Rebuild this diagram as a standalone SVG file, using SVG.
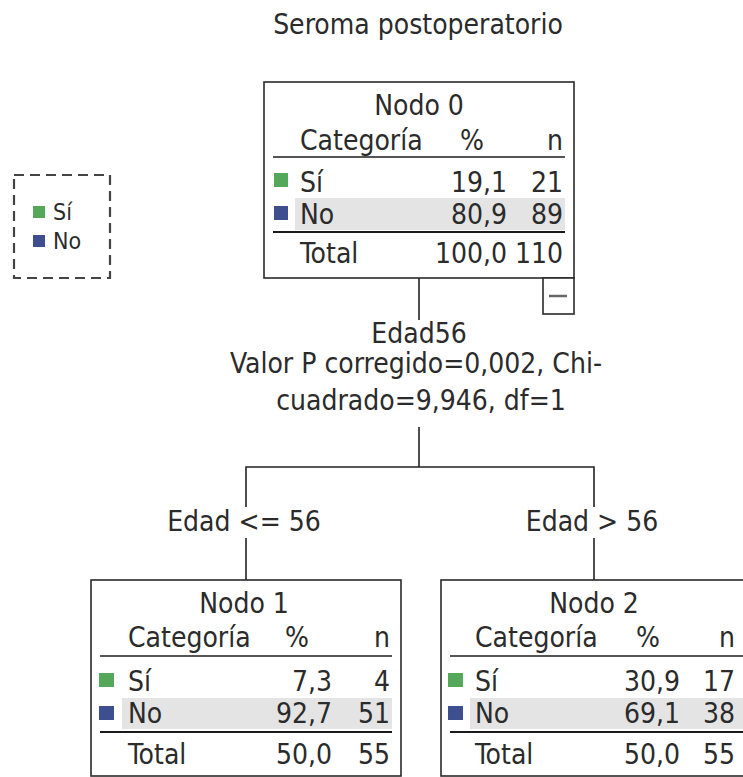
<svg xmlns="http://www.w3.org/2000/svg" width="743" height="777" viewBox="0 0 743 777">
<style>
text{font-family:"DejaVu Sans Condensed","DejaVu Sans",sans-serif;font-stretch:condensed;fill:#2b2b2b;font-size:28px}
.m{text-anchor:middle}
.e{text-anchor:end}
.box{fill:#fff;stroke:#2a2a2a;stroke-width:1.6}
.hl{stroke:#555;stroke-width:2}
.tl{stroke:#1a1a1a;stroke-width:2.2}
.band{fill:#e4e4e4}
.g{fill:#55a85a}
.b{fill:#3d4f8f}
.c{fill:none;stroke:#222;stroke-width:1.6}
.lg{font-size:23px}
</style>
<rect width="743" height="777" fill="#fff"/>
<text class="m" x="418" y="34">Seroma postoperatorio</text>

<g id="legend">
<rect x="14" y="175" width="96" height="103" fill="none" stroke="#444" stroke-width="2.2" stroke-dasharray="10,6"/>
<rect class="g" x="33" y="206" width="12" height="12"/>
<text class="lg" x="53" y="220">Sí</text>
<rect class="b" x="33" y="235" width="12" height="12"/>
<text class="lg" x="53" y="249">No</text>
</g>

<g id="connectors">
<line class="c" x1="419" y1="278" x2="419" y2="320"/>
<line class="c" x1="419" y1="427" x2="419" y2="467"/>
<polyline class="c" points="246,507 246,467 594,467 594,507"/>
<line class="c" x1="246" y1="538" x2="246" y2="580"/>
<line class="c" x1="594" y1="538" x2="594" y2="580"/>
</g>

<g id="split-label">
<text class="m" x="419" y="343">Edad56</text>
<text class="m" x="416" y="373">Valor P corregido=0,002, Chi-</text>
<text class="m" x="421" y="410">cuadrado=9,946, df=1</text>
</g>
<g id="branch-labels">
<text class="m" x="244" y="531">Edad &lt;= 56</text>
<text class="m" x="592" y="531">Edad &gt; 56</text>
</g>

<g id="node0">
<rect class="box" x="264" y="82" width="310" height="196"/>
<text class="m" x="419" y="115">Nodo 0</text>
<text x="300" y="150">Categoría</text>
<text class="m" x="472" y="150">%</text>
<text class="e" x="563" y="150">n</text>
<line class="hl" x1="273" y1="157" x2="565" y2="157"/>
<rect class="band" x="295" y="198" width="270" height="32"/>
<rect class="g" x="274" y="173" width="14" height="14"/>
<text x="300" y="192">Sí</text>
<text class="e" x="507" y="192">19,1</text>
<text class="e" x="563" y="192">21</text>
<rect class="b" x="274" y="206" width="14" height="14"/>
<text x="300" y="224">No</text>
<text class="e" x="507" y="224">80,9</text>
<text class="e" x="563" y="224">89</text>
<line class="tl" x1="273" y1="232" x2="565" y2="232"/>
<text x="300" y="263">Total</text>
<text class="e" x="507" y="263">100,0</text>
<text class="e" x="563" y="263">110</text>
<rect class="box" x="543" y="278" width="31" height="36"/>
<line x1="549" y1="296" x2="567" y2="296" stroke="#666" stroke-width="2.5"/>
</g>

<g id="node1">
<rect class="box" x="91" y="580" width="310" height="196"/>
<text class="m" x="244" y="613">Nodo 1</text>
<text x="128" y="647">Categoría</text>
<text class="m" x="297" y="647">%</text>
<text class="e" x="390" y="647">n</text>
<line class="hl" x1="100" y1="656" x2="392" y2="656"/>
<rect class="band" x="122" y="698" width="270" height="31"/>
<rect class="g" x="99" y="673" width="15" height="14"/>
<text x="128" y="691">Sí</text>
<text class="e" x="332" y="691">7,3</text>
<text class="e" x="390" y="691">4</text>
<rect class="b" x="99" y="706" width="15" height="14"/>
<text x="128" y="723">No</text>
<text class="e" x="332" y="723">92,7</text>
<text class="e" x="390" y="723">51</text>
<line class="tl" x1="100" y1="732" x2="392" y2="732"/>
<text x="128" y="764">Total</text>
<text class="e" x="332" y="764">50,0</text>
<text class="e" x="390" y="764">55</text>
</g>

<g id="node2">
<rect class="box" x="441" y="580" width="310" height="196"/>
<text class="m" x="594" y="613">Nodo 2</text>
<text x="475" y="647">Categoría</text>
<text class="m" x="648" y="647">%</text>
<text class="e" x="735" y="647">n</text>
<line class="hl" x1="450" y1="656" x2="743" y2="656"/>
<rect class="band" x="470" y="698" width="273" height="31"/>
<rect class="g" x="448" y="673" width="15" height="14"/>
<text x="475" y="691">Sí</text>
<text class="e" x="680" y="691">30,9</text>
<text class="e" x="735" y="691">17</text>
<rect class="b" x="448" y="706" width="15" height="14"/>
<text x="475" y="723">No</text>
<text class="e" x="680" y="723">69,1</text>
<text class="e" x="735" y="723">38</text>
<line class="tl" x1="450" y1="732" x2="743" y2="732"/>
<text x="475" y="764">Total</text>
<text class="e" x="680" y="764">50,0</text>
<text class="e" x="735" y="764">55</text>
</g>
</svg>
